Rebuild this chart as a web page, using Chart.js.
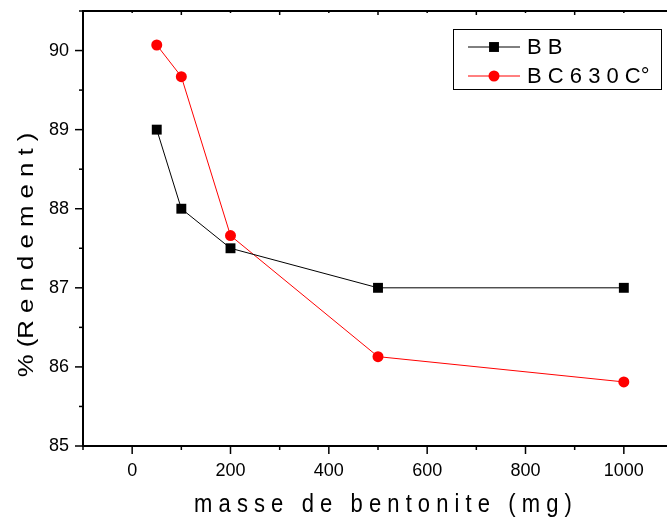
<!DOCTYPE html>
<html>
<head>
<meta charset="utf-8">
<script src="https://cdn.jsdelivr.net/npm/chart.js@4.4.0/dist/chart.umd.min.js"></script>
<style>
html, body { margin: 0; padding: 0; background: #fff; overflow: hidden; }
#cadre { position: relative; width: 680px; height: 521px; }
</style>
</head>
<body>
<div id="cadre"><canvas id="graphe"></canvas></div>
<script>
// masse de bentonite (mg)
const masses = [50, 100, 200, 500, 1000];
// rendement (%) de chaque série
const rendementBB = [89.0, 88.0, 87.5, 87.0, 87.0];
const rendementBC630 = [90.07, 89.67, 87.66, 86.13, 85.81];
const noms = ['B B', 'B C 6 3 0 C°'];
const couleurs = ['#000000', '#ff0000'];
const formes = ['rect', 'circle'];
// graduations (les étiquettes seulement tous les 200 mg et tous les 1 %)
const graduationsX = [-100, 0, 100, 200, 300, 400, 500, 600, 700, 800, 900, 1000, 1100];
const graduationsY = [85, 85.5, 86, 86.5, 87, 87.5, 88, 88.5, 89, 89.5, 90, 90.5];
const titreX = 'm a s s e   d e   b e n t o n i t e   ( m g )';
const titreY = '% (R e n d e m e n t )';

const police = '"Liberation Sans", Arial, sans-serif';

function points(valeurs) {
    return masses.map((m, i) => ({ x: m, y: valeurs[i] }));
}

function estEntier(v) {
    return Math.abs(v - Math.round(v)) < 1e-6;
}

// dessine un marqueur (carré ou rond) à la main, pour la légende
function marqueur(ctx, forme, x, y, r) {
    ctx.beginPath();
    if (forme === 'rect') {
        const s = r * Math.SQRT1_2;
        ctx.rect(x - s, y - s, 2 * s, 2 * s);
    } else {
        ctx.arc(x, y, r, 0, Math.PI * 2);
    }
    ctx.fill();
}

// pas de marge automatique autour des axes : la zone de tracé est fixée à la main
function sansMarge(s) {
    s.paddingTop = 0;
    s.paddingBottom = 0;
    s.paddingLeft = 0;
    s.paddingRight = 0;
}

// cadre du haut, graduations, titres des axes et légende façon Origin
const styleOrigin = {
    id: 'styleOrigin',
    afterDraw(chart) {
        const { ctx, chartArea: a, scales: { x, y } } = chart;
        ctx.save();
        ctx.strokeStyle = '#000';
        ctx.lineWidth = 2;
        ctx.beginPath();
        ctx.moveTo(a.left - 1, a.top);
        ctx.lineTo(a.right + 1, a.top);
        ctx.stroke();

        ctx.lineWidth = 1.5;
        x.ticks.forEach(t => {
            const px = x.getPixelForValue(t.value);
            const grand = t.value % 200 === 0;
            ctx.beginPath();
            ctx.moveTo(px, a.bottom);
            ctx.lineTo(px, a.bottom + (grand ? 8 : 4));
            ctx.stroke();
            ctx.beginPath();
            ctx.moveTo(px, a.top);
            ctx.lineTo(px, a.top + (grand ? 2 : 4));
            ctx.stroke();
        });
        y.ticks.forEach(t => {
            const py = y.getPixelForValue(t.value);
            ctx.beginPath();
            ctx.moveTo(a.left, py);
            ctx.lineTo(a.left - (estEntier(t.value) ? 8 : 4), py);
            ctx.stroke();
        });

        // titres des axes
        ctx.fillStyle = '#000';
        ctx.font = '22px ' + police;
        ctx.textAlign = 'center';
        ctx.textBaseline = 'alphabetic';
        ctx.save();
        ctx.translate(383, 512);
        ctx.scale(1, 1.17);
        ctx.fillText(titreX, 0, 0);
        ctx.restore();
        ctx.save();
        ctx.translate(33, 255);
        ctx.rotate(-Math.PI / 2);
        ctx.scale(1.17, 1);
        ctx.fillText(titreY, 0, 0);
        ctx.restore();

        // légende
        ctx.lineWidth = 1;
        ctx.strokeRect(453.5, 29.5, 208, 60);
        ctx.font = '22px ' + police;
        ctx.textAlign = 'left';
        ctx.textBaseline = 'middle';
        chart.data.datasets.forEach((ds, i) => {
            const yl = 47 + i * 29;
            ctx.strokeStyle = ds.borderColor;
            ctx.fillStyle = ds.pointBackgroundColor;
            ctx.beginPath();
            ctx.moveTo(468, yl);
            ctx.lineTo(520, yl);
            ctx.stroke();
            marqueur(ctx, ds.pointStyle, 494, yl, ds.pointRadius);
            ctx.fillStyle = '#000';
            ctx.fillText(ds.label, 527, yl + 1);
        });
        ctx.restore();
    }
};

const ctx = document.getElementById('graphe').getContext('2d');

const graphe = new Chart(ctx, {
    type: 'line',
    data: {
        datasets: [{
            label: noms[0],
            data: points(rendementBB),
            borderColor: couleurs[0],
            backgroundColor: couleurs[0],
            pointBackgroundColor: couleurs[0],
            pointStyle: formes[0],
            pointRadius: 7,
            pointBorderWidth: 0,
            borderWidth: 1,
            tension: 0
        }, {
            label: noms[1],
            data: points(rendementBC630),
            borderColor: couleurs[1],
            backgroundColor: couleurs[1],
            pointBackgroundColor: couleurs[1],
            pointStyle: formes[1],
            pointRadius: 5.5,
            pointBorderWidth: 0,
            borderWidth: 1,
            tension: 0
        }]
    },
    options: {
        responsive: true,
        maintainAspectRatio: false,
        animation: false,
        devicePixelRatio: 1,
        layout: { padding: { top: 11, right: 0, left: 0, bottom: 0 } },
        plugins: {
            legend: { display: false },
            tooltip: { enabled: false }
        },
        scales: {
            x: {
                type: 'linear',
                min: -100,
                max: 1100,
                afterBuildTicks(s) { s.ticks = graduationsX.map(v => ({ value: v })); },
                afterFit(s) { s.height = 75; sansMarge(s); },
                grid: { display: false, drawTicks: false },
                border: { display: true, color: '#000', width: 2 },
                ticks: {
                    autoSkip: false,
                    maxRotation: 0,
                    padding: 14,
                    color: '#000',
                    font: { family: police, size: 18 },
                    callback: v => (v % 200 === 0 ? v : '')
                }
            },
            y: {
                type: 'linear',
                min: 85,
                max: 90.5,
                afterBuildTicks(s) { s.ticks = graduationsY.map(v => ({ value: v })); },
                afterFit(s) { s.width = 83; sansMarge(s); },
                grid: { display: false, drawTicks: false },
                border: { display: true, color: '#000', width: 2 },
                ticks: {
                    autoSkip: false,
                    padding: 14,
                    color: '#000',
                    font: { family: police, size: 18 },
                    callback: v => (estEntier(v) ? Math.round(v) : '')
                }
            }
        }
    },
    plugins: [styleOrigin]
});
</script>
</body>
</html>
